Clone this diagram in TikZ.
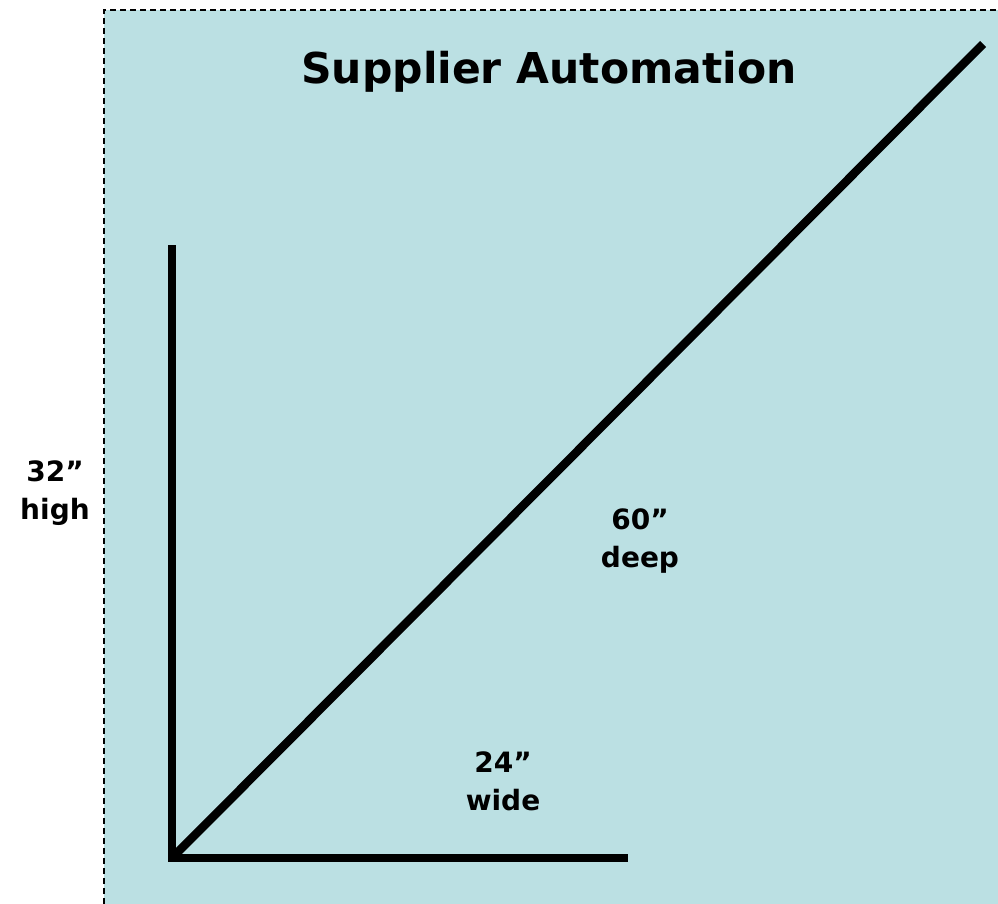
\documentclass[tikz,border=0pt]{standalone}
\usepackage{fontspec}
\setmainfont{DejaVu Sans}
\definecolor{bgblue}{HTML}{BBE0E3}
\begin{document}
\begin{tikzpicture}[x=1pt,y=-1pt,
  lbl/.style={font=\bfseries\fontsize{28}{38}\selectfont, align=center, inner sep=0pt},
  bar/.style={line width=8.5pt, black}]
\useasboundingbox (0,0) rectangle (998,904);
\fill[bgblue] (104,10) rectangle (998,904);
\draw[line width=1.8pt, dash pattern=on 6pt off 4pt] (104,904) -- (104,10) -- (998,10);
\coordinate (top) at (172,245);
\coordinate (corner) at (172,858);
\coordinate (right) at (628,858);
\coordinate (far) at (983,44);
\draw[bar, line join=miter] (top) -- (corner) -- (right);
\draw[bar] (corner) -- (far);
\node[font=\bfseries\fontsize{42.5}{50}\selectfont, inner sep=0pt, anchor=base] (title) at (549,84) {Supplier Automation};
\node[lbl, anchor=base] (high) at (55,519) {32”\\high};
\node[lbl, anchor=base] (deep) at (640,567) {60”\\deep};
\node[lbl, anchor=base] (wide) at (503,810) {24”\\wide};
\end{tikzpicture}
\end{document}
